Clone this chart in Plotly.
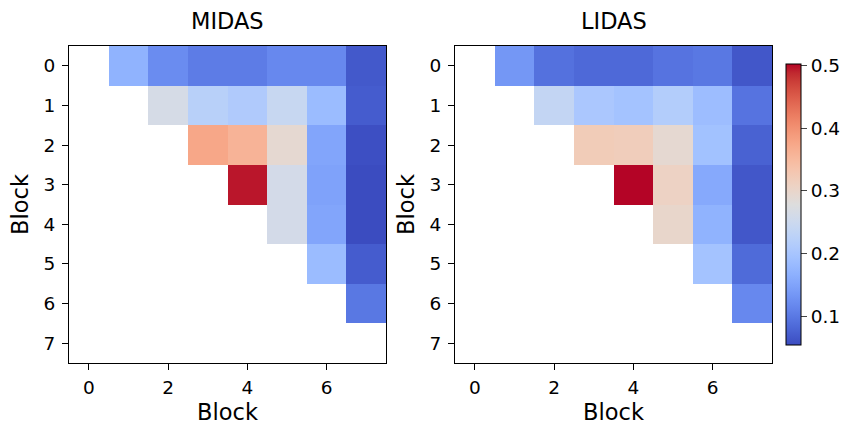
import plotly.graph_objects as go

# Pairwise block scores (upper triangle only; None = not computed)
blocks = list(range(8))
tick_vals = [0, 2, 4, 6]

midas = [
    [None, 0.171, 0.122, 0.104, 0.104, 0.118, 0.118, 0.068],
    [None, None, 0.265, 0.223, 0.211, 0.243, 0.185, 0.071],
    [None, None, None, 0.375, 0.359, 0.292, 0.153, 0.058],
    [None, None, None, None, 0.495, 0.261, 0.149, 0.055],
    [None, None, None, None, None, 0.261, 0.153, 0.055],
    [None, None, None, None, None, None, 0.185, 0.071],
    [None, None, None, None, None, None, None, 0.100],
]
midas.append([None] * 8)

lidas = [
    [None, 0.135, 0.093, 0.084, 0.084, 0.095, 0.100, 0.066],
    [None, None, 0.238, 0.205, 0.196, 0.216, 0.187, 0.095],
    [None, None, None, 0.321, 0.318, 0.292, 0.194, 0.077],
    [None, None, None, None, 0.502, 0.308, 0.158, 0.066],
    [None, None, None, None, None, 0.299, 0.171, 0.066],
    [None, None, None, None, None, None, 0.196, 0.086],
    [None, None, None, None, None, None, None, 0.118],
]
lidas.append([None] * 8)

titles = ["MIDAS", "LIDAS"]

# matplotlib "coolwarm" (Moreland diverging map control points)
_cw = [
    (59, 76, 192), (68, 90, 204), (77, 104, 215), (87, 117, 225), (98, 130, 234),
    (108, 142, 241), (119, 154, 247), (130, 165, 251), (141, 176, 254), (152, 185, 255),
    (163, 194, 255), (174, 201, 253), (184, 208, 249), (194, 213, 244), (204, 217, 238),
    (213, 219, 230), (221, 221, 221), (229, 216, 209), (236, 211, 197), (241, 204, 185),
    (245, 196, 173), (247, 187, 160), (247, 177, 148), (247, 166, 135), (244, 154, 123),
    (241, 141, 111), (236, 127, 99), (229, 112, 88), (222, 96, 77), (213, 80, 66),
    (203, 62, 56), (192, 40, 47), (180, 4, 38),
]
coolwarm = [[i / (len(_cw) - 1), "rgb(%d,%d,%d)" % c] for i, c in enumerate(_cw)]

all_vals = [v for m in (midas, lidas) for row in m for v in row if v is not None]
zmin, zmax = min(all_vals), max(all_vals)

W, H = 849, 425
font = "DejaVu Sans, Arial, sans-serif"
TICK = 18.5
LABEL = 22.5
TLEN = 6

fig = go.Figure()
for k, z in enumerate([midas, lidas]):
    fig.add_trace(go.Heatmap(
        z=z, x=blocks, y=blocks, coloraxis="coloraxis",
        xaxis="x" if k == 0 else "x2", yaxis="y" if k == 0 else "y2",
        hoverongaps=False,
    ))

ytop = 1 - 46 / H
ybot = 1 - 363 / H
doms = [[69 / W, 386 / W], [455 / W, 772 / W]]

axis_common = dict(
    showline=True, linecolor="black", linewidth=1, mirror=True,
    ticks="outside", ticklen=TLEN, tickcolor="black", showgrid=False, zeroline=False,
    tickfont=dict(size=TICK, color="black", family=font),
    title_font=dict(size=LABEL, color="black", family=font),
)

layout = dict(
    width=W, height=H,
    margin=dict(l=0, r=0, t=0, b=0),
    paper_bgcolor="white", plot_bgcolor="white",
    font=dict(family=font, color="black"),
    coloraxis=dict(
        colorscale=coolwarm, cmin=zmin, cmax=zmax,
        colorbar=dict(
            x=786 / W, xanchor="left", xpad=0, ypad=0,
            y=1 - 345 / H, yanchor="bottom", len=(345 - 64) / H, lenmode="fraction",
            thickness=15, outlinewidth=1, outlinecolor="black",
            tickvals=[0.1, 0.2, 0.3, 0.4, 0.5], ticks="outside", ticklen=TLEN,
            tickfont=dict(size=TICK, color="black", family=font),
        ),
    ),
)
for k in range(2):
    sx = "" if k == 0 else "2"
    layout["xaxis" + sx] = dict(
        axis_common, domain=doms[k], range=[-0.5, 7.5],
        tickvals=tick_vals, title=dict(text="Block", standoff=7),
        ticklabelstandoff=2, anchor="y" + sx,
    )
    layout["yaxis" + sx] = dict(
        axis_common, domain=[ybot, ytop], range=[7.5, -0.5],
        tickvals=blocks, title=dict(text="Block", standoff=8),
        ticklabelstandoff=3, anchor="x" + sx,
    )
fig.update_layout(**layout)

for k, t in enumerate(titles):
    fig.add_annotation(
        text=t, x=sum(doms[k]) / 2, y=ytop, xref="paper", yref="paper",
        xanchor="center", yanchor="bottom", yshift=10, showarrow=False,
        font=dict(size=LABEL, color="black", family=font),
    )

fig.write_html("out.html")
